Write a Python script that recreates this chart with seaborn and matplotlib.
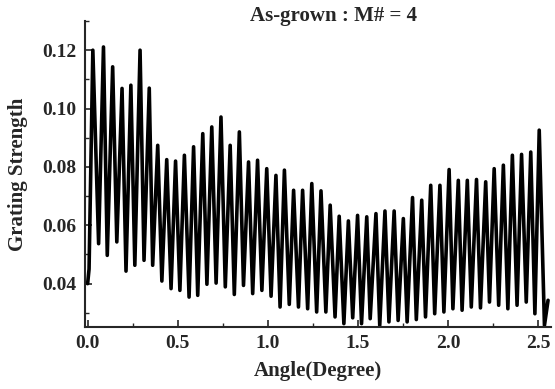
import matplotlib
matplotlib.use("Agg")
import matplotlib.pyplot as plt
from matplotlib.ticker import MultipleLocator
import seaborn as sns
import pandas as pd

# Peak positions/values
peak_angle = [0.029, 0.088, 0.139, 0.191, 0.240, 0.291, 0.342, 0.389, 0.439, 0.488,
              0.537, 0.588, 0.639, 0.689, 0.740, 0.791, 0.842, 0.893, 0.943, 0.994,
              1.045, 1.092, 1.143, 1.193, 1.244, 1.295, 1.346, 1.396, 1.447, 1.498,
              1.549, 1.600, 1.650, 1.701, 1.752, 1.803, 1.854, 1.904, 1.955, 2.006,
              2.057, 2.107, 2.158, 2.209, 2.256, 2.307, 2.357, 2.408, 2.459, 2.506]
peak_value = [0.1200, 0.1211, 0.1143, 0.1069, 0.1080, 0.1200, 0.1070, 0.0874, 0.0825, 0.0820,
              0.0840, 0.0869, 0.0914, 0.0937, 0.0971, 0.0874, 0.0920, 0.0817, 0.0823, 0.0794,
              0.0771, 0.0789, 0.0720, 0.0720, 0.0743, 0.0718, 0.0669, 0.0631, 0.0615, 0.0634,
              0.0629, 0.0640, 0.0649, 0.0649, 0.0623, 0.0695, 0.0686, 0.0737, 0.0737, 0.0791,
              0.0754, 0.0754, 0.0757, 0.0749, 0.0794, 0.0806, 0.0840, 0.0843, 0.0851, 0.0926]

# Trough positions/values (including start and end of the trace)
trough_angle = [0.000, 0.008, 0.061, 0.109, 0.162, 0.213, 0.262, 0.313, 0.361, 0.412, 0.463,
                0.512, 0.563, 0.611, 0.662, 0.713, 0.764, 0.814, 0.865, 0.916, 0.967,
                1.018, 1.068, 1.119, 1.170, 1.221, 1.271, 1.322, 1.373, 1.422, 1.471,
                1.520, 1.568, 1.621, 1.672, 1.723, 1.773, 1.824, 1.875, 1.926, 1.977,
                2.027, 2.078, 2.129, 2.180, 2.230, 2.281, 2.332, 2.383, 2.434, 2.482,
                2.535, 2.555]
trough_value = [0.0400, 0.0450, 0.0537, 0.0497, 0.0543, 0.0443, 0.0463, 0.0480, 0.0463, 0.0409, 0.0383,
                0.0377, 0.0354, 0.0360, 0.0398, 0.0402, 0.0389, 0.0363, 0.0394, 0.0366, 0.0377,
                0.0357, 0.0320, 0.0329, 0.0320, 0.0314, 0.0303, 0.0303, 0.0286, 0.0263, 0.0283,
                0.0263, 0.0280, 0.0257, 0.0269, 0.0274, 0.0269, 0.0277, 0.0286, 0.0297, 0.0303,
                0.0314, 0.0309, 0.0320, 0.0317, 0.0337, 0.0326, 0.0314, 0.0326, 0.0337, 0.0297,
                0.0257, 0.0343]

x_ticks = [0.0, 0.5, 1.0, 1.5, 2.0, 2.5]
y_ticks = [0.04, 0.06, 0.08, 0.10, 0.12]

df = pd.DataFrame({"angle": peak_angle + trough_angle,
                   "strength": peak_value + trough_value}).sort_values("angle").reset_index(drop=True)

sns.set_style("ticks")
plt.rcParams['font.family'] = ['Liberation Serif', 'DejaVu Serif']
plt.rcParams['font.weight'] = 'bold'

fig = plt.figure(figsize=(5.55, 3.89), dpi=100)
ax = fig.add_axes([0.153, 0.159, 0.840, 0.787])

sns.lineplot(data=df, x="angle", y="strength", ax=ax, color="black",
             linewidth=2.6, sort=False, estimator=None)

ax.set_xlim(-0.015, 2.572)
ax.set_ylim(0.0251, 0.130)
ax.set_xticks(x_ticks)
ax.set_yticks(y_ticks)
ax.set_xticklabels([f"{v:.1f}" for v in x_ticks], fontsize=14, fontweight='bold')
ax.set_yticklabels([f"{v:.2f}" for v in y_ticks], fontsize=14, fontweight='bold')
ax.xaxis.set_minor_locator(MultipleLocator(0.25))
ax.yaxis.set_minor_locator(MultipleLocator(0.01))
ax.tick_params(which='major', direction='in', length=5, width=1.2, pad=6)
ax.tick_params(which='minor', direction='in', length=3, width=1.0)

for s in ['top', 'right']:
    ax.spines[s].set_visible(False)
for s in ['left', 'bottom']:
    ax.spines[s].set_linewidth(1.5)

ax.set_xlabel("Angle(Degree)", fontsize=15, fontweight='bold', labelpad=6)
ax.set_ylabel("Grating Strength", fontsize=15, fontweight='bold', labelpad=10)
fig.text(0.600, 0.958, "As-grown : M# = 4", ha='center', va='center',
         fontsize=15, fontweight='bold')

fig.savefig("out.png", dpi=100)
